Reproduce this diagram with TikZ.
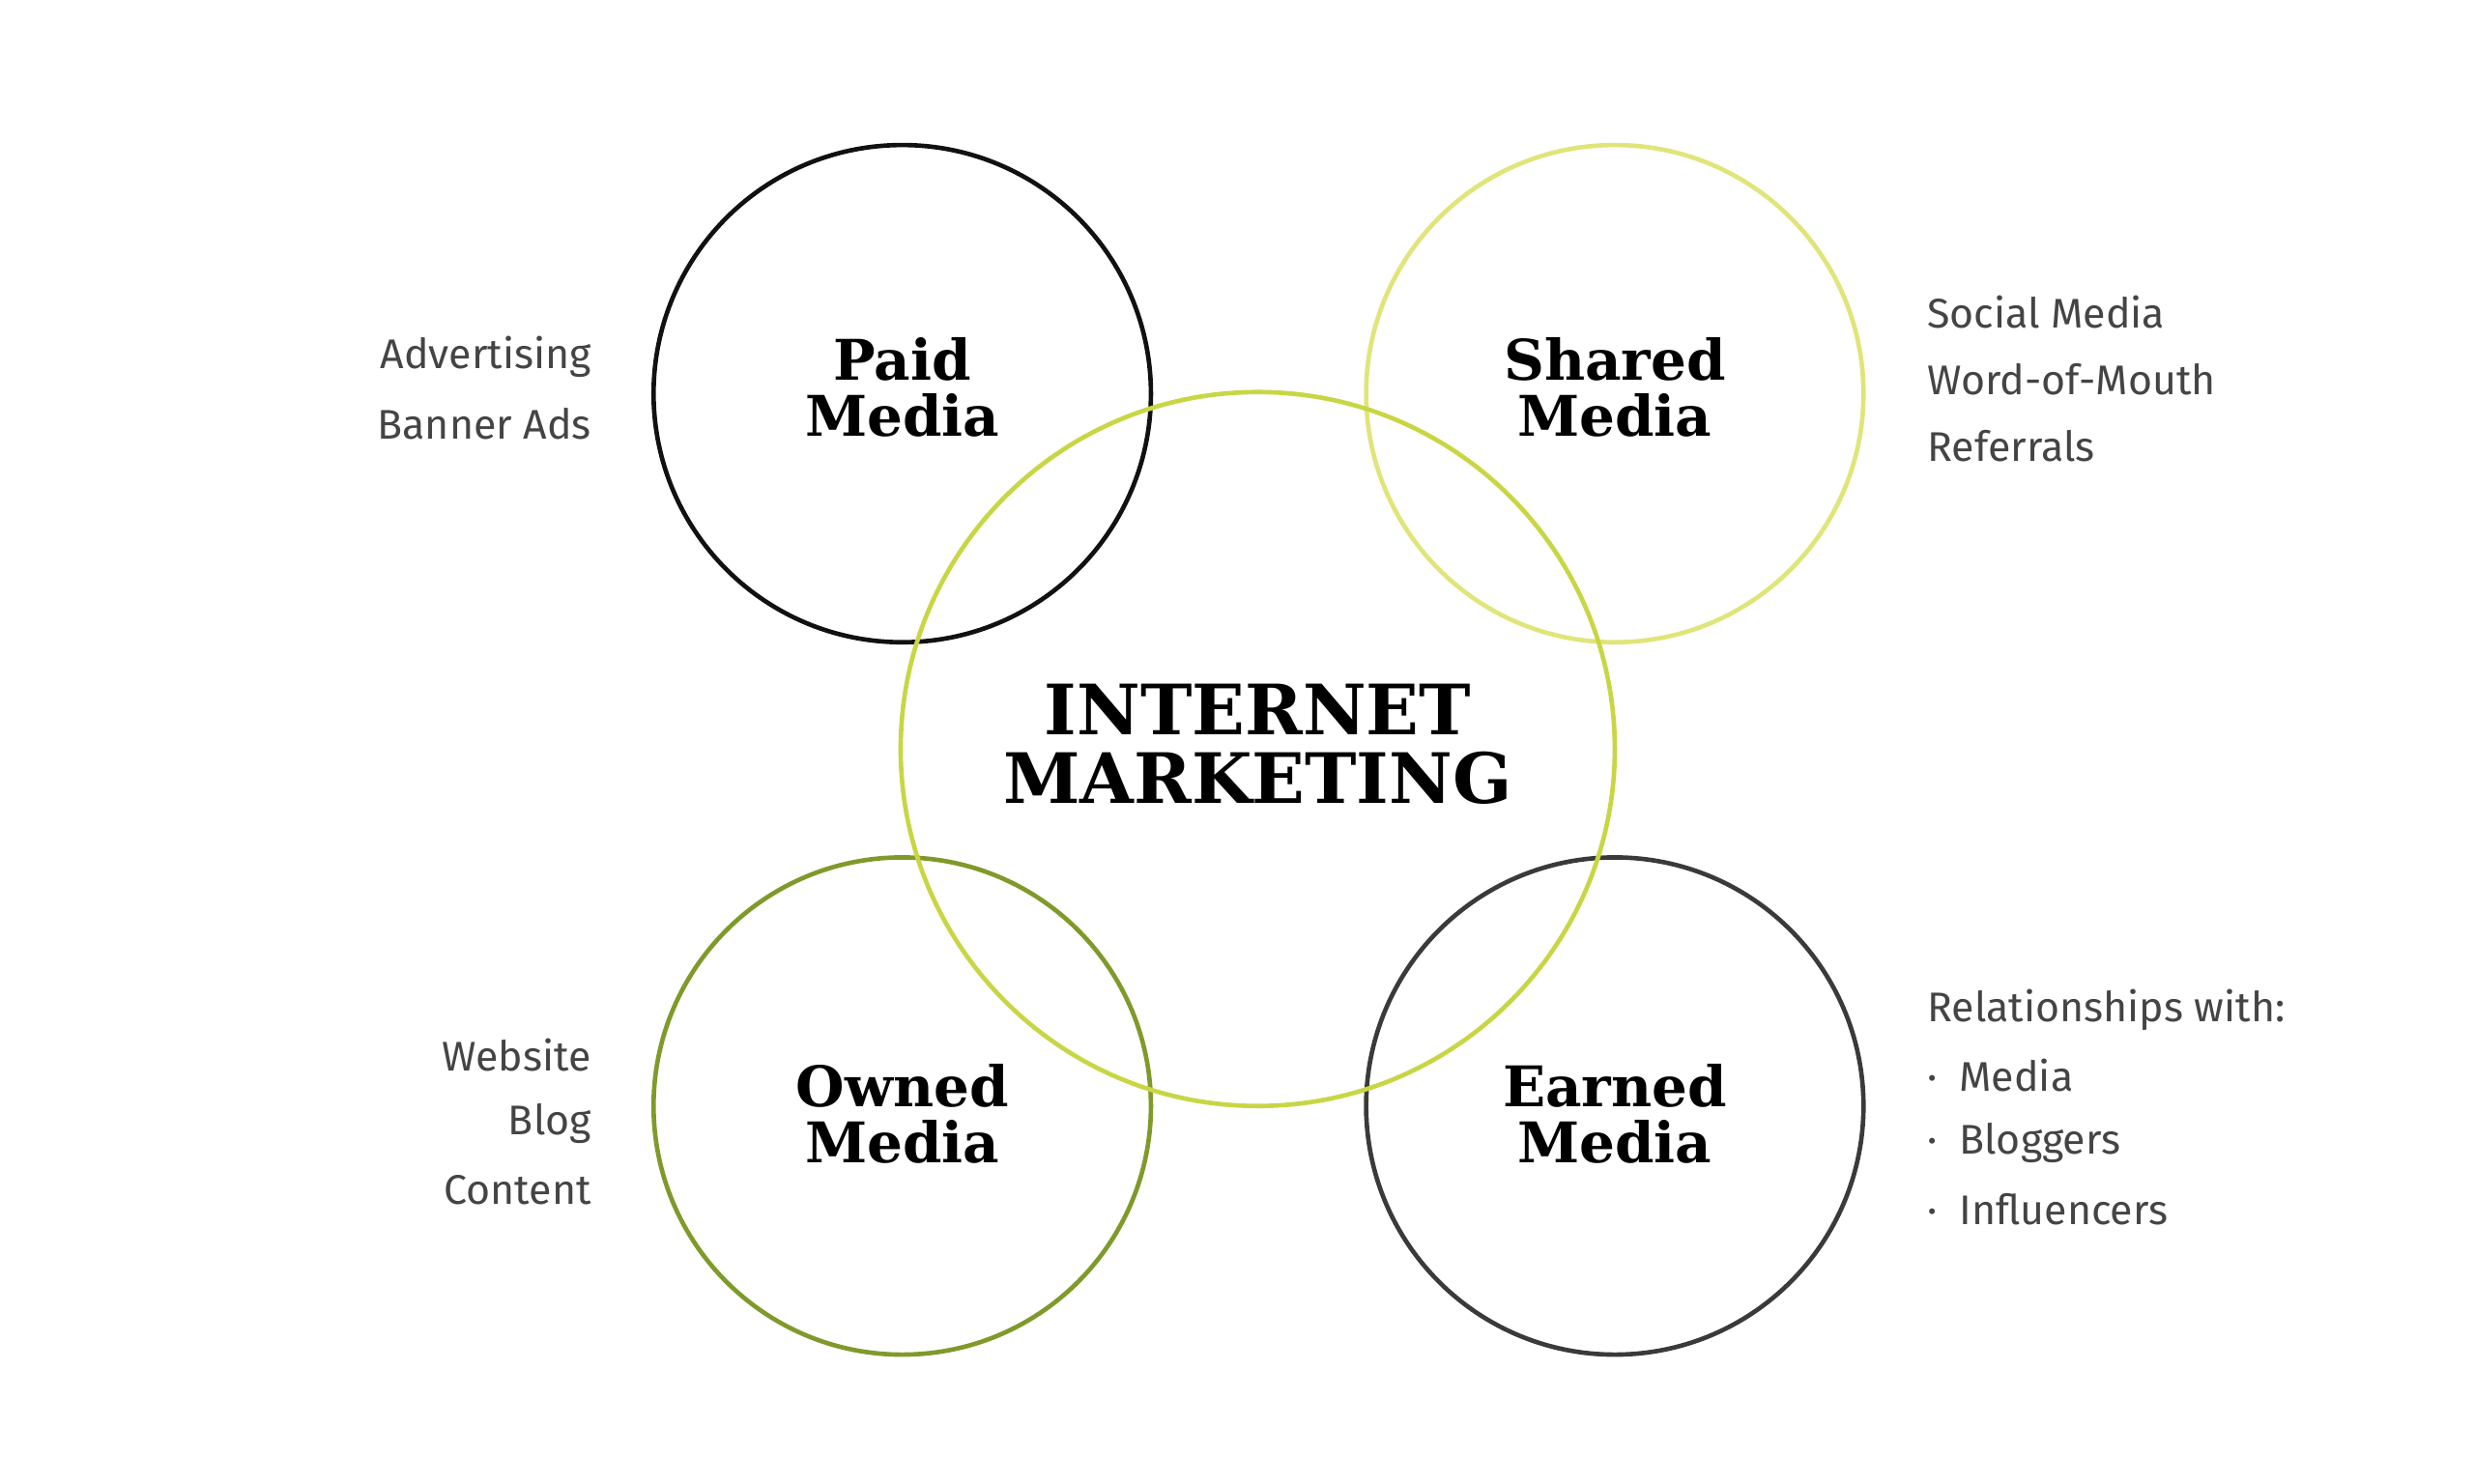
\documentclass[tikz,border=0pt]{standalone}
\usepackage{fontspec}
\setmainfont{DejaVu Serif}
\newfontfamily\sidefont{Fira Sans}
\definecolor{cpaid}{HTML}{111111}
\definecolor{cshared}{HTML}{E0E57A}
\definecolor{ccenter}{HTML}{C8D645}
\definecolor{cowned}{HTML}{7F9A2A}
\definecolor{cearned}{HTML}{3A3A3A}
\definecolor{cside}{HTML}{444444}
\begin{document}
\begin{tikzpicture}[x=0.05cm,y=-0.05cm,
  ring/.style={draw,line width=4pt},
  title/.style={font=\fontsize{50}{50}\selectfont\bfseries,align=center},
  side/.style={font=\sidefont\fontsize{37}{40}\selectfont,text=cside,inner sep=0pt}]
\useasboundingbox (0,0) rectangle (1552,931);
\draw[ring,cpaid] (566,247) circle[radius=156];
\draw[ring,cshared] (1013,247) circle[radius=156];
\draw[ring,cowned] (566,694) circle[radius=156];
\draw[ring,cearned] (1013,694) circle[radius=156];
\draw[ring,ccenter] (789,470) circle[radius=224];
\node[title] (paid) at (566,243) {Paid\\Media};
\node[title] (shared) at (1013,243) {Shared\\Media};
\node[title] (owned) at (566,699) {Owned\\Media};
\node[title] (earned) at (1013,699) {Earned\\Media};
\node[title,font=\fontsize{62}{62}\selectfont\bfseries] (im) at (789,467) {INTERNET\\MARKETING};
\node[side,anchor=east] (l1) at (371,224) {Advertising};
\node[side,anchor=east] (l2) at (371,266) {Banner Ads};
\node[side,anchor=east] (l3) at (371,662) {Website};
\node[side,anchor=east] (l4) at (371,705) {Blog};
\node[side,anchor=east] (l5) at (371,747) {Content};
\node[side,anchor=west] (r1) at (1209,196) {Social Media};
\node[side,anchor=west] (r2) at (1209,238) {Word-of-Mouth};
\node[side,anchor=west] (r3) at (1209,280) {Referrals};
\node[side,anchor=west] (r4) at (1209,634) {Relationships with:};
\node[side,anchor=west] (r5) at (1209,675) {·\ \ Media};
\node[side,anchor=west] (r6) at (1209,717) {·\ \ Bloggers};
\node[side,anchor=west] (r7) at (1209,759) {·\ \ Influencers};
\end{tikzpicture}
\end{document}
